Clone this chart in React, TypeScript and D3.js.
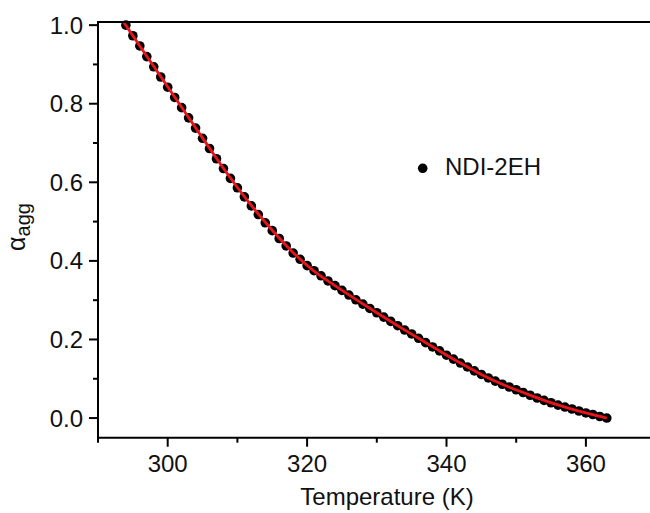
import React from "react";
import * as d3 from "d3";

const temps: number[] = [
  294, 295, 296, 297, 298, 299, 300, 301, 302, 303, 304, 305, 306, 307, 308, 309,
  310, 311, 312, 313, 314, 315, 316, 317, 318, 319, 320, 321, 322, 323, 324, 325,
  326, 327, 328, 329, 330, 331, 332, 333, 334, 335, 336, 337, 338, 339, 340, 341,
  342, 343, 344, 345, 346, 347, 348, 349, 350, 351, 352, 353, 354, 355, 356, 357,
  358, 359, 360, 361, 362, 363,
];
const alphaAgg: number[] = [
  1.0, 0.973, 0.947, 0.92, 0.894, 0.868, 0.842, 0.816, 0.79, 0.764, 0.738, 0.712, 0.686, 0.66, 0.635, 0.61,
  0.586, 0.563, 0.54, 0.518, 0.497, 0.477, 0.457, 0.438, 0.42, 0.404, 0.388, 0.375, 0.362, 0.349, 0.337, 0.325,
  0.313, 0.301, 0.29, 0.279, 0.268, 0.257, 0.246, 0.235, 0.224, 0.214, 0.203, 0.192, 0.181, 0.171, 0.16, 0.15,
  0.14, 0.13, 0.12, 0.111, 0.102, 0.094, 0.086, 0.079, 0.072, 0.065, 0.058, 0.051, 0.045, 0.039, 0.033, 0.028,
  0.023, 0.018, 0.013, 0.009, 0.004, 0.0,
];

const fitTemps: number[] = [293.6, 297, 300, 303, 306, 309, 312, 315, 318, 321, 324, 327, 330, 333, 336, 339, 342, 345, 348, 351, 354, 357, 360, 363];
const fitAlpha: number[] = [1.01, 0.921, 0.843, 0.765, 0.687, 0.611, 0.541, 0.478, 0.421, 0.374, 0.337, 0.302, 0.268, 0.235, 0.203, 0.171, 0.14, 0.111, 0.086, 0.065, 0.045, 0.028, 0.013, 0.0];

const xTicks: number[] = [300, 320, 340, 360];
const xMinor: number[] = [290, 310, 330, 350, 370];
const yTicks: number[] = [0, 0.2, 0.4, 0.6, 0.8, 1.0];
const yMinor: number[] = [0.1, 0.3, 0.5, 0.7, 0.9];

const seriesName = "NDI-2EH";
const xTitle = "Temperature (K)";

const FONT = "'Liberation Sans', Arial, sans-serif";

export default function App() {
  const left = 98;
  const top = 22;
  const bottom = 437.7;
  const x = d3.scaleLinear().domain([290, 370]).range([left, left + 80 * 6.97]);
  const y = d3.scaleLinear().domain([-0.05, 1.008]).range([bottom, top]);
  const right = x(370);

  const fitLine = d3
    .line<number>()
    .x((_, i) => x(fitTemps[i]))
    .y((d) => y(d))
    .curve(d3.curveMonotoneX);

  const fs = 24;

  return (
    <svg
      width={650}
      height={513}
      style={{ position: "absolute", left: 0, top: 0, background: "#fff" }}
      fontFamily={FONT}
    >
      <rect x={0} y={0} width={650} height={513} fill="#fff" />
      <defs>
        <clipPath id="plotClip">
          <rect x={left} y={top} width={right - left} height={bottom - top} />
        </clipPath>
      </defs>

      {/* data points */}
      <g>
        {alphaAgg.map((a, i) => (
          <circle key={i} cx={x(temps[i])} cy={y(a)} r={4.8} fill="#000" />
        ))}
      </g>

      {/* fit line */}
      <path
        d={fitLine(fitAlpha) || ""}
        fill="none"
        stroke="#e8141c"
        strokeWidth={2.8}
        clipPath="url(#plotClip)"
      />

      {/* frame: top line, left axis, bottom axis */}
      <line x1={left} x2={right} y1={top} y2={top} stroke="#000" strokeWidth={2} />
      <line x1={left} x2={left} y1={top - 1} y2={bottom + 1} stroke="#000" strokeWidth={2} />
      <line x1={left - 1} x2={right} y1={bottom} y2={bottom} stroke="#000" strokeWidth={2} />

      {/* y ticks */}
      {yTicks.map((t) => (
        <g key={"y" + t}>
          <line x1={left - 9} x2={left} y1={y(t)} y2={y(t)} stroke="#000" strokeWidth={2} />
          <text x={83} y={y(t) + 8.5} textAnchor="end" fontSize={fs} fill="#111">
            {t.toFixed(1)}
          </text>
        </g>
      ))}
      {yMinor.map((t) => (
        <line key={"ym" + t} x1={left - 5} x2={left} y1={y(t)} y2={y(t)} stroke="#000" strokeWidth={2} />
      ))}

      {/* x ticks */}
      {xTicks.map((t) => (
        <g key={"x" + t}>
          <line x1={x(t)} x2={x(t)} y1={bottom} y2={bottom + 9} stroke="#000" strokeWidth={2} />
          <text x={x(t)} y={471.7} textAnchor="middle" fontSize={fs} fill="#111">
            {t}
          </text>
        </g>
      ))}
      {xMinor.map((t) => (
        <line key={"xm" + t} x1={x(t)} x2={x(t)} y1={bottom} y2={bottom + 5} stroke="#000" strokeWidth={2} />
      ))}

      {/* axis titles */}
      <text x={387} y={505} textAnchor="middle" fontSize={fs} fill="#111">
        {xTitle}
      </text>
      <text
        transform="translate(25,227) rotate(-90)"
        textAnchor="middle"
        fontSize={25}
        fill="#111"
      >
        <tspan>α</tspan>
        <tspan fontSize={20} dy={5}>agg</tspan>
      </text>

      {/* legend */}
      <circle cx={422.7} cy={168.3} r={4.8} fill="#000" />
      <text x={445} y={175} fontSize={fs} fill="#111">
        {seriesName}
      </text>
    </svg>
  );
}
